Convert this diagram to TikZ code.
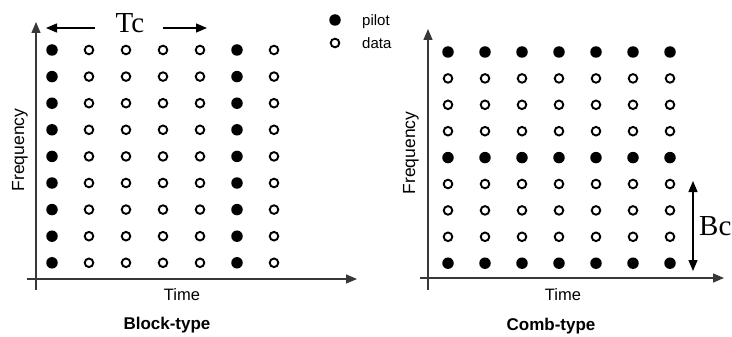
\documentclass[tikz,border=0pt]{standalone}
\usepackage{fontspec}
\newfontfamily\arial{Liberation Sans}
\newfontfamily\serifbig{Liberation Serif}
\usetikzlibrary{arrows.meta}
\begin{document}
\begin{tikzpicture}[x=1pt,y=-1pt,
  axis/.style={draw=black!78, line width=1.4pt, -{Triangle[length=11pt,width=9pt]}},
  dimarrow/.style={draw=black, line width=1.4pt, -{Triangle[length=11pt,width=9pt]}},
  pilot/.style={circle, fill=black, inner sep=0pt, minimum size=11.5pt},
  datadot/.style={circle, draw=black, line width=1.9pt, inner sep=0pt, minimum size=8.6pt},
  lbl/.style={font=\arial\fontsize{16.5}{18}\selectfont, inner sep=0pt},
  ttl/.style={font=\arial\bfseries\fontsize{17}{19}\selectfont, inner sep=0pt},
  freq/.style={font=\arial\fontsize{17.5}{19}\selectfont, rotate=90, inner sep=0pt},
  leg/.style={font=\arial\fontsize{15}{17}\selectfont, inner sep=0pt, anchor=base west},
  big/.style={font=\serifbig\fontsize{29}{31}\selectfont, inner sep=0pt}]
\useasboundingbox (0,0) rectangle (732,337);

% ---------- Left panel: Block-type ----------
\coordinate (LO) at (36,290);
\coordinate (LT) at (36,22);
\coordinate (LXs) at (27,279);
\coordinate (LXe) at (357,279);
\draw[axis] (LO) -- (LT);
\draw[axis] (LXs) -- (LXe);

\foreach \i in {1,...,7}{
  \foreach \j in {1,...,9}{
    \pgfmathsetmacro{\xx}{52+37*(\i-1)}
    \pgfmathsetmacro{\yy}{50+26.6*(\j-1)}
    \ifnum\i=1
      \node[pilot] (L-\i-\j) at (\xx,\yy) {};
    \else\ifnum\i=6
      \node[pilot] (L-\i-\j) at (\xx,\yy) {};
    \else
      \node[datadot] (L-\i-\j) at (\xx,\yy) {};
    \fi\fi
  }
}

\node[big, anchor=base] (Tc) at (130,33) {Tc};
\coordinate (tcLs) at (95,28);
\coordinate (tcL) at (46,28);
\coordinate (tcRs) at (163,28);
\coordinate (tcR) at (207,28);
\draw[dimarrow] (tcLs) -- (tcL);
\draw[dimarrow] (tcRs) -- (tcR);

\node[freq] (Lfreq) at (20,150) {Frequency};
\node[lbl, anchor=base] (Ltime) at (182,300) {Time};
\node[ttl, anchor=base] (Ltitle) at (167,329) {Block-type};

% ---------- Legend ----------
\node[pilot] (legP) at (335,20) {};
\node[datadot] (legD) at (335,43) {};
\node[leg] (legPt) at (362,25.5) {pilot};
\node[leg] (legDt) at (362,48.5) {data};

% ---------- Right panel: Comb-type ----------
\coordinate (RO) at (428,290);
\coordinate (RT) at (428,29);
\coordinate (RXs) at (420,278);
\coordinate (RXe) at (724,278);
\draw[axis] (RO) -- (RT);
\draw[axis] (RXs) -- (RXe);

\foreach \i in {1,...,7}{
  \foreach \j in {1,...,9}{
    \pgfmathsetmacro{\xx}{448+37*(\i-1)}
    \pgfmathsetmacro{\yy}{52+26.4*(\j-1)}
    \ifnum\j=1
      \node[pilot] (R-\i-\j) at (\xx,\yy) {};
    \else\ifnum\j=5
      \node[pilot] (R-\i-\j) at (\xx,\yy) {};
    \else\ifnum\j=9
      \node[pilot] (R-\i-\j) at (\xx,\yy) {};
    \else
      \node[datadot] (R-\i-\j) at (\xx,\yy) {};
    \fi\fi\fi
  }
}

\coordinate (bcT) at (693,181);
\coordinate (bcB) at (693,271);
\draw[dimarrow, {Triangle[length=11pt,width=9pt]}-{Triangle[length=11pt,width=9pt]}] (bcT) -- (bcB);
\node[big, anchor=base west] (Bc) at (699,235) {Bc};

\node[freq] (Rfreq) at (411,153) {Frequency};
\node[lbl, anchor=base] (Rtime) at (563,300) {Time};
\node[ttl, anchor=base] (Rtitle) at (551,330) {Comb-type};
\end{tikzpicture}
\end{document}
